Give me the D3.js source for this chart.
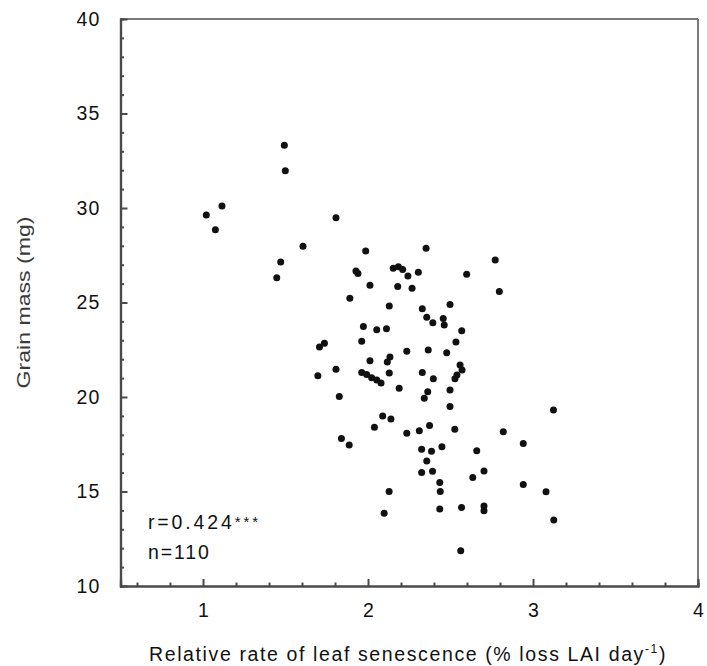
<!DOCTYPE html>
<html>
<head>
<meta charset="utf-8">
<script src="https://cdn.jsdelivr.net/npm/d3@7"></script>
<style>
  html, body { margin: 0; padding: 0; background: #fff; }
  svg { display: block; font-family: "Liberation Sans", Arial, sans-serif; }
</style>
</head>
<body>
<svg id="chart" width="707" height="666"></svg>
<script>
// Relative rate of leaf senescence (% loss LAI per day)
const senescence = [
  1.493, 1.499, 1.115, 1.020, 1.075, 1.806, 1.606, 1.471, 1.447, 1.986,
  2.352, 1.927, 1.939, 2.153, 2.184, 2.210, 2.242, 2.305, 2.012, 2.180,
  2.267, 1.890, 2.129, 2.329, 2.356, 1.972, 2.053, 2.112, 2.771, 2.598,
  2.796, 2.497, 2.393, 2.456, 2.462, 2.568, 1.962, 1.706, 1.736, 2.533,
  2.235, 2.365, 2.477, 2.012, 2.133, 2.117, 2.558, 2.570, 2.539, 2.527,
  1.696, 1.806, 1.962, 1.992, 2.022, 2.053, 2.079, 2.129, 2.329, 2.396,
  2.189, 2.497, 2.362, 2.341, 1.826, 2.497, 2.089, 2.139, 2.039, 2.235,
  2.311, 2.373, 2.526, 2.820, 1.839, 1.886, 2.941, 3.124, 2.325, 2.385,
  2.448, 2.659, 2.356, 2.325, 2.391, 2.703, 2.635, 2.435, 2.438, 2.941,
  3.079, 2.128, 2.098, 2.435, 2.567, 2.703, 2.703, 3.126, 2.562
];
// Grain mass (mg)
const grainMass = [
  33.32, 31.97, 30.11, 29.63, 28.85, 29.49, 27.97, 27.14, 26.31, 27.72,
  27.87, 26.67, 26.53, 26.81, 26.89, 26.74, 26.40, 26.60, 25.91, 25.84,
  25.75, 25.22, 24.81, 24.67, 24.22, 23.73, 23.56, 23.61, 27.25, 26.49,
  25.58, 24.90, 23.93, 24.16, 23.81, 23.51, 22.95, 22.65, 22.84, 22.91,
  22.42, 22.49, 22.34, 21.92, 22.12, 21.85, 21.69, 21.43, 21.16, 20.96,
  21.13, 21.47, 21.30, 21.19, 21.02, 20.90, 20.74, 21.27, 21.29, 20.97,
  20.46, 20.37, 20.28, 19.93, 20.02, 19.50, 19.00, 18.83, 18.40, 18.08,
  18.22, 18.49, 18.29, 18.16, 17.81, 17.46, 17.54, 19.31, 17.23, 17.13,
  17.37, 17.16, 16.62, 16.00, 16.07, 16.08, 15.74, 15.48, 15.00, 15.37,
  14.99, 15.00, 13.85, 14.08, 14.16, 14.23, 13.98, 13.49, 11.87
];
const xMajorTicks = [1, 2, 3, 4];
const xMinorTicks = [0.6, 0.8, 1.2, 1.4, 1.6, 1.8, 2.2, 2.4, 2.6, 2.8, 3.2, 3.4, 3.6, 3.8];
const yMajorTicks = [10, 15, 20, 25, 30, 35, 40];
const yMinorTicks = [11,12,13,14,16,17,18,19,21,22,23,24,26,27,28,29,31,32,33,34,36,37,38,39];
const statR = "r=0.424";
const statStars = "***";
const statN = "n=110";
const xTitle = "Relative rate of leaf senescence (% loss LAI day";
const xTitleSup = "-1";
const yTitle = "Grain mass (mg)";

(function () {
const svg = d3.select("#chart");
const mL = 120.5, mR = 698, mT = 19, mB = 586;
const x = d3.scaleLinear().domain([0.5, 4]).range([mL, mR]);
const y = d3.scaleLinear().domain([10, 40]).range([mB, mT]);

const axisColor = "#4a4a4a";

// fit a text element's width by adjusting letter-spacing
function fitWidth(sel, target) {
  const node = sel.node();
  const w = node.getBBox().width;
  const n = node.textContent.length;
  sel.attr("letter-spacing", (target - w) / n);
}

// frame: top and right lighter
svg.append("line").attr("x1", mL).attr("x2", mR).attr("y1", mT).attr("y2", mT)
  .attr("stroke", "#7a7a7a").attr("stroke-width", 2);
svg.append("line").attr("x1", mR).attr("x2", mR).attr("y1", mT).attr("y2", mB)
  .attr("stroke", "#7a7a7a").attr("stroke-width", 2);

// bottom axis: minor + major
const gxMinor = svg.append("g").attr("transform", `translate(0,${mB})`)
  .call(d3.axisBottom(x).tickValues(xMinorTicks).tickSize(-3.5).tickFormat(""));
const gx = svg.append("g").attr("transform", `translate(0,${mB})`)
  .call(d3.axisBottom(x).tickValues(xMajorTicks).tickSize(-7).tickPadding(17).tickFormat(d3.format("d")));
[gxMinor, gx].forEach(g => {
  g.select(".domain").attr("stroke", axisColor).attr("stroke-width", 2.2);
  g.selectAll(".tick line").attr("stroke", axisColor).attr("stroke-width", 2);
});
gx.selectAll(".tick text").attr("font-size", 19.5).attr("fill", "#111")
  .attr("font-family", "'Liberation Sans', Arial, sans-serif");
gx.selectAll(".tick").filter(d => d === 4).select("line").remove();

// left axis
const gyMinor = svg.append("g").attr("transform", `translate(${mL},0)`)
  .call(d3.axisLeft(y).tickValues(yMinorTicks).tickSize(-3.5).tickFormat(""));
const gy = svg.append("g").attr("transform", `translate(${mL},0)`)
  .call(d3.axisLeft(y).tickValues(yMajorTicks).tickSize(-7).tickPadding(20).tickFormat(d3.format("d")));
[gyMinor, gy].forEach(g => {
  g.select(".domain").attr("stroke", axisColor).attr("stroke-width", 2.2);
  g.selectAll(".tick line").attr("stroke", axisColor).attr("stroke-width", 2);
});
gy.selectAll(".tick text").attr("font-size", 19.5).attr("fill", "#111")
  .attr("letter-spacing", 1.2)
  .attr("font-family", "'Liberation Sans', Arial, sans-serif");
gy.selectAll(".tick").filter(d => d === 10 || d === 40).select("line").remove();

// points
const pts = senescence.map((v, i) => ({ x: v, y: grainMass[i] }));
svg.append("g").selectAll("circle").data(pts).join("circle")
  .attr("cx", d => x(d.x)).attr("cy", d => y(d.y)).attr("r", 3.5)
  .attr("fill", "#111");

// stats text
const tr = svg.append("text").attr("x", 148).attr("y", 529)
  .attr("font-size", 19.5).attr("fill", "#111");
tr.append("tspan").text(statR);
tr.append("tspan").attr("font-size", 15).attr("dy", -2).text(statStars);
fitWidth(tr, 113);
const tn = svg.append("text").attr("x", 148).attr("y", 558.5)
  .attr("font-size", 19.5).attr("fill", "#111").text(statN);
fitWidth(tn, 63);

// x title
const xt = svg.append("text")
  .attr("x", 149).attr("y", 661)
  .attr("font-size", 19.5).attr("fill", "#111");
xt.append("tspan").text(xTitle);
xt.append("tspan").attr("font-size", 12).attr("dy", -8).text(xTitleSup);
xt.append("tspan").attr("dy", 8).text(")");
fitWidth(xt, 518);

// y title
svg.append("text")
  .attr("transform", `translate(30,${(mT + mB) / 2}) rotate(-90)`)
  .attr("text-anchor", "middle").attr("font-size", 19).attr("fill", "#3a3a3a")
  .attr("textLength", 172).attr("lengthAdjust", "spacingAndGlyphs")
  .text(yTitle);
})();
</script>
</body>
</html>
